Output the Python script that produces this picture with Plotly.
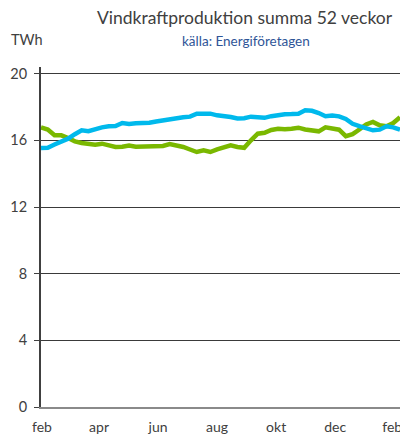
import pandas as pd
import plotly.graph_objects as go

weeks = pd.date_range("2023-01-31", periods=54, freq="7D")

green_values = [16.78, 16.65, 16.3, 16.3, 16.14, 15.94, 15.84, 15.8, 15.74, 15.8,
                15.68, 15.6, 15.62, 15.69, 15.62, 15.62, 15.62, 15.62, 15.66, 15.77,
                15.7, 15.6, 15.45, 15.3, 15.4, 15.3, 15.46, 15.6, 15.7, 15.6,
                15.55, 16.0, 16.4, 16.45, 16.62, 16.7, 16.66, 16.7, 16.76, 16.65,
                16.6, 16.54, 16.78, 16.74, 16.64, 16.25, 16.37, 16.65, 16.95, 17.1,
                16.9, 16.85, 17.04, 17.38]

blue_values = [15.54, 15.56, 15.75, 15.9, 16.1, 16.37, 16.6, 16.55, 16.68, 16.78,
               16.84, 16.86, 17.04, 16.98, 17.02, 17.03, 17.05, 17.13, 17.2, 17.25,
               17.36, 17.38, 17.42, 17.6, 17.6, 17.6, 17.5, 17.46, 17.4, 17.31,
               17.33, 17.42, 17.4, 17.35, 17.45, 17.52, 17.57, 17.58, 17.6, 17.8,
               17.77, 17.64, 17.45, 17.49, 17.44, 17.28, 16.99, 16.85, 16.72, 16.6,
               16.64, 16.84, 16.78, 16.64]

tick_dates = ["2023-02-01", "2023-04-01", "2023-06-01", "2023-08-01",
              "2023-10-01", "2023-12-01", "2024-01-29"]
tick_labels = ["feb", "apr", "jun", "aug", "okt", "dec", "feb"]
y_ticks = [0, 4, 8, 12, 16, 20]

FONT = "Lato, Open Sans, sans-serif"
# page has an 8px body margin, so the figure is offset by 8px
OFF = 8
W, H = 408 - OFF, 435 - OFF
ML, MR, MT, MB = 41 - OFF, 8, 67 - OFF, 28

fig = go.Figure()
fig.add_trace(go.Scatter(x=weeks, y=green_values, mode="lines",
                         line=dict(color="#7AB800", width=4.5), showlegend=False))
fig.add_trace(go.Scatter(x=weeks, y=blue_values, mode="lines",
                         line=dict(color="#00B9EC", width=4.5), showlegend=False))

fig.update_layout(
    width=W, height=H,
    margin=dict(l=ML, r=MR, t=MT, b=MB, autoexpand=False),
    paper_bgcolor="white", plot_bgcolor="white",
    font=dict(family=FONT, size=13, color="#404040"),
    xaxis=dict(range=[weeks[0], weeks[-1]], tickvals=tick_dates, ticktext=tick_labels,
               showgrid=False, showline=True, linecolor="#8a8a8a", linewidth=2,
               zeroline=False, ticks="", ticklabelstandoff=6,
               tickfont=dict(size=14, color="#404040")),
    yaxis=dict(range=[0, 20.4], tickvals=y_ticks, showgrid=True, gridcolor="#3a3a3a",
               gridwidth=1, showline=True, linecolor="#404040", linewidth=2,
               ticks="outside", ticklen=5, tickcolor="#404040", zeroline=False,
               ticklabelstandoff=4, tickfont=dict(size=14.5, color="#404040")),
    annotations=[
        dict(text="Vindkraftproduktion summa 52 veckor", x=245, y=17, showarrow=False,
             font=dict(size=17.5, color="#404040")),
        dict(text="källa: Energiföretagen", x=246, y=41, showarrow=False,
             font=dict(size=13.5, color="#2F5597")),
        dict(text="TWh", x=27, y=39, showarrow=False, font=dict(size=14.5, color="#404040")),
    ],
)

# place annotations in page pixel coordinates (convert to paper)
pw = W - ML - MR
ph = H - MT - MB
for a in fig.layout.annotations:
    px, py = a.x - OFF, a.y - OFF
    a.xref = "paper"; a.yref = "paper"
    a.x = (px - ML) / pw
    a.y = (H - MB - py) / ph
    a.xanchor = "center"; a.yanchor = "middle"

fig.write_html("out.html")
